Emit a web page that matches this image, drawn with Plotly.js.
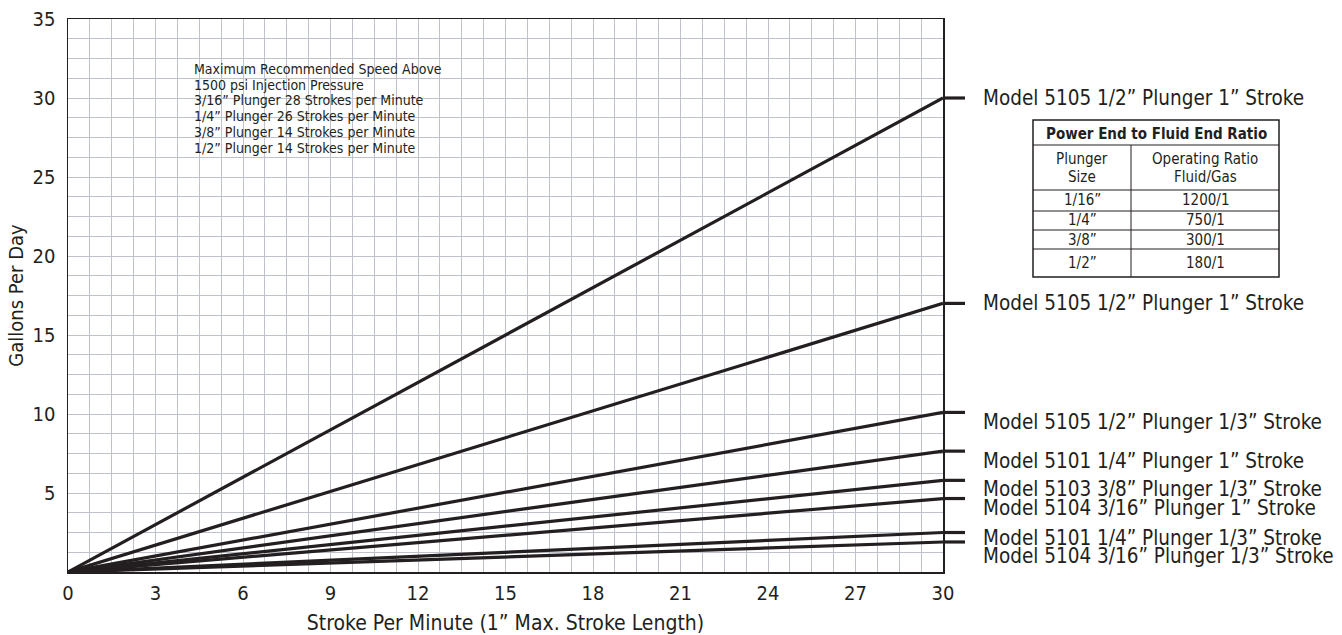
<!DOCTYPE html>
<html>
<head>
<meta charset="utf-8">
<script src="https://cdn.plot.ly/plotly-3.0.1.min.js"></script>
<style>
  html, body { margin: 0; padding: 0; background: #ffffff; }
  #chart { width: 1342px; height: 635px; }
</style>
</head>
<body>
<div id="chart"></div>
<script>
// ---------- DATA ----------
const strokeRange = [0, 30];                       // strokes per minute (x start / end)
const gallonRange = [0, 35];
const endGallons = [30, 17, 10.1, 7.65, 5.8, 4.65, 2.5, 1.9];   // gallons per day at 30 SPM
const modelLabels = [
  "Model 5105 1/2\u201D Plunger 1\u201D Stroke",
  "Model 5105 1/2\u201D Plunger 1\u201D Stroke",
  "Model 5105 1/2\u201D Plunger 1/3\u201D Stroke",
  "Model 5101 1/4\u201D Plunger 1\u201D Stroke",
  "Model 5103 3/8\u201D Plunger 1/3\u201D Stroke",
  "Model 5104 3/16\u201D Plunger 1\u201D Stroke",
  "Model 5101 1/4\u201D Plunger 1/3\u201D Stroke",
  "Model 5104 3/16\u201D Plunger 1/3\u201D Stroke"
];
const xTicks = [0, 3, 6, 9, 12, 15, 18, 21, 24, 27, 30];
const yTicks = [5, 10, 15, 20, 25, 30, 35];
const noteLines = [
  "Maximum Recommended Speed Above",
  "1500 psi Injection Pressure",
  "3/16\u201D Plunger 28 Strokes per Minute",
  "1/4\u201D Plunger 26 Strokes per Minute",
  "3/8\u201D Plunger 14 Strokes per Minute",
  "1/2\u201D Plunger 14 Strokes per Minute"
];
const tableTitle = "Power End to Fluid End Ratio";
const tableHeaders = [["Plunger", "Size"], ["Operating Ratio", "Fluid/Gas"]];
const plungerSizes = ["1/16\u201D", "1/4\u201D", "3/8\u201D", "1/2\u201D"];
const fluidGasRatios = ["1200/1", "750/1", "300/1", "180/1"];

// ---------- STYLE / LAYOUT CONSTANTS ----------
const INK = "#231f20";
const GRID = "#bfc2ca";
const FONT = "'Liberation Sans Narrow', 'DejaVu Sans Condensed', 'Arial Narrow', sans-serif";
const W = 1342, H = 635;
const M = { l: 68, r: 399, t: 19, b: 63 };
const plotW = W - M.l - M.r, plotH = H - M.t - M.b;
const px2x = p => (p - M.l) / plotW;          // pixel -> paper x
const py2y = p => (H - M.b - p) / plotH;      // pixel -> paper y
const stubPx = 22;                              // horizontal lead-out past the plot edge
const labelYShift = [0, 0, -10, -10, -9, -9, -5, -14];

// ---------- TRACES ----------
const traces = endGallons.map((v, i) => ({
  type: "scatter",
  mode: "lines",
  x: [strokeRange[0], strokeRange[1]],
  y: [0, v],
  line: { color: INK, width: 3.2 },
  hoverinfo: "skip",
  showlegend: false,
  name: modelLabels[i]
}));

// ---------- ANNOTATIONS ----------
const annotations = [];
endGallons.forEach((v, i) => {
  annotations.push({
    x: strokeRange[1], y: v, xref: "x", yref: "y",
    xanchor: "left", yanchor: "middle",
    xshift: 38, yshift: labelYShift[i],
    text: modelLabels[i], showarrow: false,
    font: { family: FONT, size: 20.5, color: INK }
  });
});
noteLines.forEach((t, i) => {
  annotations.push({
    x: px2x(192), y: py2y(69 + i * 15.7), xref: "paper", yref: "paper",
    xanchor: "left", yanchor: "middle",
    text: t, showarrow: false,
    font: { family: FONT, size: 14, color: INK }
  });
});

// table
const tL = 1033, tR = 1279, tT = 120, tB = 277, tMid = 1131;
const rowLines = [145, 190, 211, 230, 249];
const c1 = (tL + tMid) / 2, c2 = (tMid + tR) / 2;
annotations.push({
  x: px2x((tL + tR) / 2), y: py2y(134), xref: "paper", yref: "paper",
  xanchor: "center", yanchor: "middle", showarrow: false,
  text: "<b>" + tableTitle + "</b>",
  font: { family: FONT, size: 15, color: INK }
});
[c1, c2].forEach((cx, ci) => {
  tableHeaders[ci].forEach((t, li) => {
    annotations.push({
      x: px2x(cx), y: py2y(159 + li * 18), xref: "paper", yref: "paper",
      xanchor: "center", yanchor: "middle", showarrow: false,
      text: t, font: { family: FONT, size: 15, color: INK }
    });
  });
});
const rowCenters = [200, 220, 240, 263];
plungerSizes.forEach((s, i) => {
  annotations.push({
    x: px2x(c1), y: py2y(rowCenters[i]), xref: "paper", yref: "paper",
    xanchor: "center", yanchor: "middle", showarrow: false,
    text: s, font: { family: FONT, size: 15, color: INK }
  });
  annotations.push({
    x: px2x(c2), y: py2y(rowCenters[i]), xref: "paper", yref: "paper",
    xanchor: "center", yanchor: "middle", showarrow: false,
    text: fluidGasRatios[i], font: { family: FONT, size: 15, color: INK }
  });
});

const shapes = [];
// lead-out stubs to the right of the plot, at each line's end value
endGallons.forEach(v => {
  const yp = (v - gallonRange[0]) / (gallonRange[1] - gallonRange[0]);
  shapes.push({
    type: "line", xref: "paper", yref: "paper",
    x0: 1, x1: 1 + stubPx / plotW, y0: yp, y1: yp,
    line: { color: INK, width: 3.2 }
  });
});
shapes.push({
  type: "rect", xref: "paper", yref: "paper",
  x0: px2x(tL), x1: px2x(tR), y0: py2y(tT), y1: py2y(tB),
  line: { color: INK, width: 1.5 }, fillcolor: "rgba(0,0,0,0)"
});
rowLines.forEach(r => {
  shapes.push({
    type: "line", xref: "paper", yref: "paper",
    x0: px2x(tL), x1: px2x(tR), y0: py2y(r), y1: py2y(r),
    line: { color: INK, width: 1 }
  });
});
shapes.push({
  type: "line", xref: "paper", yref: "paper",
  x0: px2x(tMid), x1: px2x(tMid), y0: py2y(rowLines[0]), y1: py2y(tB),
  line: { color: INK, width: 1 }
});

// ---------- LAYOUT ----------
const layout = {
  width: W, height: H,
  margin: M,
  paper_bgcolor: "#ffffff",
  plot_bgcolor: "#ffffff",
  font: { family: FONT, color: INK },
  showlegend: false,
  xaxis: {
    range: strokeRange,
    tickvals: xTicks,
    ticktext: xTicks.map(String),
    ticks: "",
    tickfont: { family: FONT, size: 20, color: INK },
    ticklabelstandoff: 2,
    showgrid: true, gridcolor: GRID, gridwidth: 1,
    minor: { dtick: 0.75, tick0: 0, showgrid: true, gridcolor: GRID, gridwidth: 1, ticks: "" },
    showline: true, linecolor: INK, linewidth: 1.5, mirror: true,
    zeroline: false,
    title: { text: "Stroke Per Minute (1\u201D Max. Stroke Length)", font: { family: FONT, size: 21, color: INK }, standoff: 12 }
  },
  yaxis: {
    range: gallonRange,
    tickvals: yTicks,
    ticktext: yTicks.map(String),
    ticks: "",
    tickfont: { family: FONT, size: 20, color: INK },
    ticklabelstandoff: 7,
    showgrid: true, gridcolor: GRID, gridwidth: 1,
    minor: { dtick: 1.25, tick0: 0, showgrid: true, gridcolor: GRID, gridwidth: 1, ticks: "" },
    showline: true, linecolor: INK, linewidth: 1.5, mirror: true,
    zeroline: false,
    title: { text: "Gallons Per Day", font: { family: FONT, size: 20, color: INK }, standoff: 3 }
  },
  annotations: annotations,
  shapes: shapes
};

Plotly.newPlot("chart", traces, layout, { displayModeBar: false, staticPlot: true });
</script>
</body>
</html>
